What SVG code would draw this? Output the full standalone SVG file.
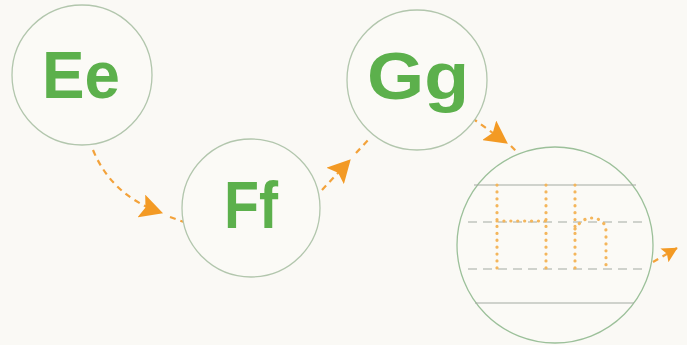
<svg xmlns="http://www.w3.org/2000/svg" width="687" height="345" viewBox="0 0 687 345">
<style>
.node{fill:#fbfaf6;stroke:#b2c6ad;stroke-width:1.3}
.lbl{font-family:"Liberation Sans",Arial,sans-serif;font-weight:700;fill:#5cb04c;font-size:66px}
.conn{fill:none;stroke:#f3a23a;stroke-width:2.2;stroke-dasharray:6 5}
.rule{stroke:#a3a9a1;stroke-width:1.2}
.rule-d{stroke:#a3a9a1;stroke-width:1.2;stroke-dasharray:9 6}
.dots{fill:none;stroke:#f4b65c;stroke-width:3.2;stroke-linecap:round;stroke-dasharray:0.1 6.8}
</style>
<defs>
<marker id="ah" viewBox="0 0 22 22" refX="20" refY="11" markerUnits="userSpaceOnUse" markerWidth="24" markerHeight="24" orient="auto">
<path d="M0,0 L21,11 L0,22 L4,11 z" fill="#f39a24"/>
</marker>
<marker id="ahs" viewBox="0 0 22 22" refX="20" refY="11" markerUnits="userSpaceOnUse" markerWidth="16" markerHeight="16" orient="auto">
<path d="M0,0 L21,11 L0,22 L4,11 z" fill="#f39a24"/>
</marker>
</defs>
<rect width="687" height="345" fill="#faf9f5"/>
<g id="connectors">
<path class="conn" d="M93,150 Q112,196 162,213" marker-end="url(#ah)"/>
<path class="conn" d="M170,217 L184,222"/>
<path class="conn" d="M322,190 L350,160" marker-end="url(#ah)"/>
<path class="conn" d="M356,153 L371,137"/>
<path class="conn" d="M472,118 L507,143" marker-end="url(#ah)"/>
<path class="conn" d="M511,146 L518,153"/>
<path class="conn" d="M653,262 L677,248" marker-end="url(#ahs)"/>
</g>
<g id="node-ee">
<circle class="node" cx="82" cy="75" r="70"/>
<text class="lbl" x="81" y="98" text-anchor="middle" textLength="78" lengthAdjust="spacingAndGlyphs">Ee</text>
</g>
<g id="node-ff">
<circle class="node" cx="251" cy="208" r="69"/>
<text class="lbl" x="251" y="228" text-anchor="middle" textLength="54" lengthAdjust="spacingAndGlyphs">Ff</text>
</g>
<g id="node-gg">
<circle class="node" cx="417" cy="80" r="70"/>
<text class="lbl" x="418" y="99" text-anchor="middle" textLength="102" lengthAdjust="spacingAndGlyphs">Gg</text>
</g>
<g id="node-hh">
<circle class="node" cx="555" cy="245" r="98" style="stroke:#9cc09a"/>
<line class="rule" x1="474" y1="185" x2="636" y2="185"/>
<line class="rule-d" x1="468" y1="222" x2="645" y2="222"/>
<line class="rule-d" x1="468" y1="269" x2="645" y2="269"/>
<line class="rule" x1="475" y1="303" x2="634" y2="303"/>
<path class="dots" d="M497,185 L497,269 M546,185 L546,269 M497,221 L546,221 M575,185 L575,269 M575,229 Q582,218 592,218 Q606,219 606,232 L606,269"/>
</g>
</svg>
